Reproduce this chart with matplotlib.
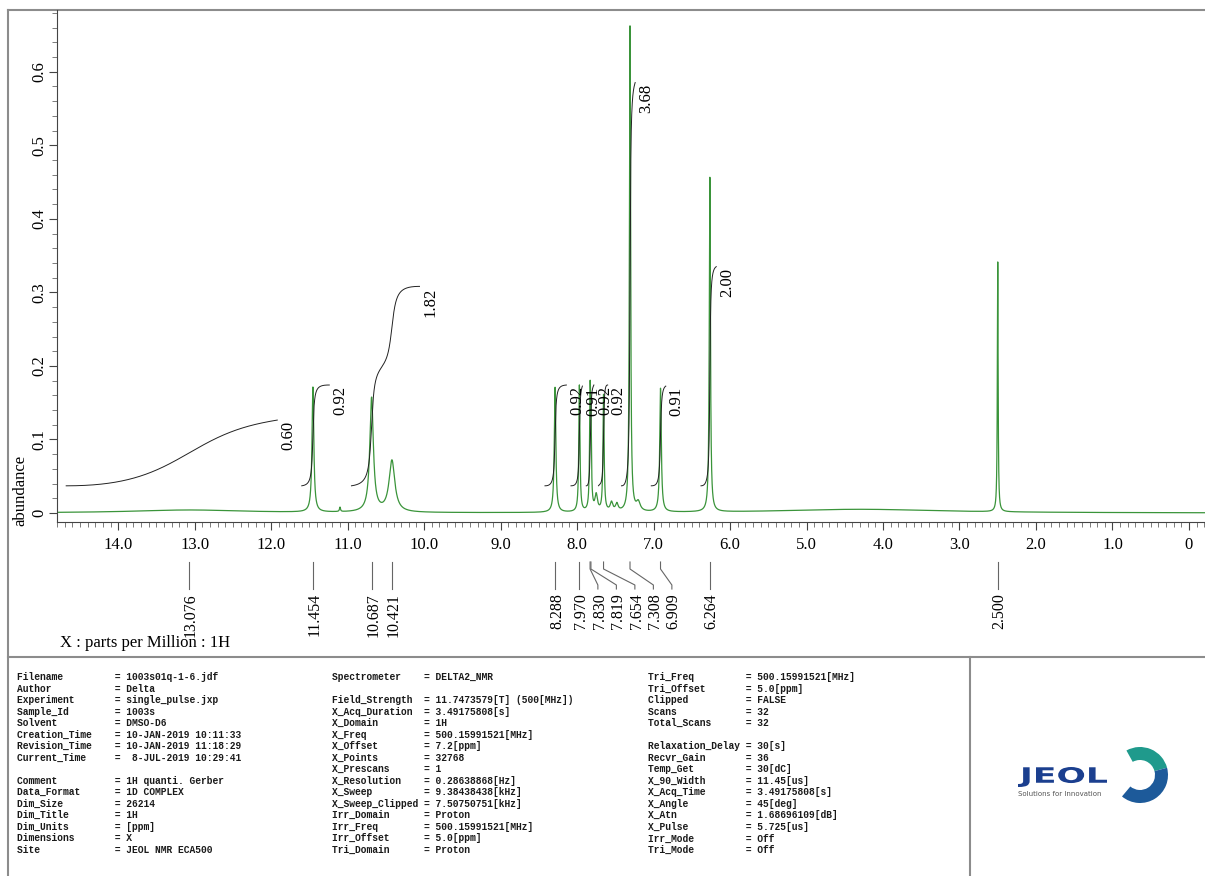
import numpy as np
import matplotlib.pyplot as plt
from matplotlib import transforms
from matplotlib.patches import Wedge, PathPatch
from matplotlib.textpath import TextPath
from matplotlib.font_manager import FontProperties
from matplotlib.ticker import MultipleLocator, FuncFormatter

W, H = 1205, 876

# spectrum peaks: position [ppm], height [abundance], half width [ppm]
peak_ppm = [13.076, 11.454, 11.10, 10.687, 10.421, 8.288, 7.970, 7.830, 7.819, 7.75,
            7.654, 7.55, 7.48, 7.308, 7.20, 6.909, 6.264, 4.30, 2.500]
peak_height = [0.004, 0.170, 0.006, 0.155, 0.070, 0.170, 0.172, 0.140, 0.100, 0.022,
               0.158, 0.012, 0.010, 0.660, 0.012, 0.168, 0.455, 0.005, 0.340]
peak_width = [0.90, 0.014, 0.008, 0.028, 0.045, 0.012, 0.009, 0.008, 0.008, 0.02,
              0.009, 0.02, 0.02, 0.009, 0.03, 0.012, 0.009, 1.3, 0.006]

# integral regions [ppm] and printed values
int_start = [14.68, 11.60, 10.95, 8.42, 8.08, 7.88, 7.72, 7.42, 7.03, 6.38]
int_end = [11.92, 11.24, 10.06, 8.14, 7.93, 7.78, 7.60, 7.24, 6.84, 6.18]
int_value = [0.60, 0.92, 1.82, 0.92, 0.91, 0.92, 0.92, 3.68, 0.91, 2.00]

# peak picks [ppm]
pick_ppm = [13.076, 11.454, 10.687, 10.421, 8.288, 7.970, 7.830, 7.819, 7.654,
            7.308, 6.909, 6.264, 2.500]

info_col1 = [
    ("Filename", "1003s01q-1-6.jdf"), ("Author", "Delta"),
    ("Experiment", "single_pulse.jxp"), ("Sample_Id", "1003s"),
    ("Solvent", "DMSO-D6"), ("Creation_Time", "10-JAN-2019 10:11:33"),
    ("Revision_Time", "10-JAN-2019 11:18:29"), ("Current_Time", " 8-JUL-2019 10:29:41"),
    None,
    ("Comment", "1H quanti. Gerber"), ("Data_Format", "1D COMPLEX"),
    ("Dim_Size", "26214"), ("Dim_Title", "1H"), ("Dim_Units", "[ppm]"),
    ("Dimensions", "X"), ("Site", "JEOL NMR ECA500"),
]
info_col2 = [
    ("Spectrometer", "DELTA2_NMR"),
    None,
    ("Field_Strength", "11.7473579[T] (500[MHz])"), ("X_Acq_Duration", "3.49175808[s]"),
    ("X_Domain", "1H"), ("X_Freq", "500.15991521[MHz]"), ("X_Offset", "7.2[ppm]"),
    ("X_Points", "32768"), ("X_Prescans", "1"), ("X_Resolution", "0.28638868[Hz]"),
    ("X_Sweep", "9.38438438[kHz]"), ("X_Sweep_Clipped", "7.50750751[kHz]"),
    ("Irr_Domain", "Proton"), ("Irr_Freq", "500.15991521[MHz]"),
    ("Irr_Offset", "5.0[ppm]"), ("Tri_Domain", "Proton"),
]
info_col3 = [
    ("Tri_Freq", "500.15991521[MHz]"), ("Tri_Offset", "5.0[ppm]"),
    ("Clipped", "FALSE"), ("Scans", "32"), ("Total_Scans", "32"),
    None,
    ("Relaxation_Delay", "30[s]"), ("Recvr_Gain", "36"), ("Temp_Get", "30[dC]"),
    ("X_90_Width", "11.45[us]"), ("X_Acq_Time", "3.49175808[s]"), ("X_Angle", "45[deg]"),
    ("X_Atn", "1.68696109[dB]"), ("X_Pulse", "5.725[us]"), ("Irr_Mode", "Off"),
    ("Tri_Mode", "Off"),
]

SERIF = "Liberation Serif"
MONO = "Liberation Mono"
GREEN = "#3a943a"
FRAME = "#8c8c8c"
INT_BASE = 0.037   # integral baseline [abundance]
INT_UNIT = 0.149   # abundance per integral unit

plt.rcParams["font.family"] = SERIF


def px_box(x0, y0, x1, y1):
    # pixel box (y from top) -> figure fraction rect
    return [x0 / W, 1 - y1 / H, (x1 - x0) / W, (y1 - y0) / H]


def fmt(v, _):
    return "0" if abs(v) < 1e-9 else f"{v:.1f}"


def main():
    fig = plt.figure(figsize=(W / 100, H / 100), dpi=100)

    # pixel-space overlay for frame, table and logo
    deco = fig.add_axes([0, 0, 1, 1], zorder=0)
    deco.set_xlim(0, W)
    deco.set_ylim(H, 0)
    deco.axis("off")

    ax = fig.add_axes(px_box(57, 10, 1205, 522), zorder=1)
    ax.patch.set_alpha(0)
    ax.set_xlim(14.80, -0.21)
    ax.set_ylim(-0.0122, 0.684)
    for s in ("top", "right"):
        ax.spines[s].set_visible(False)
    for s in ("left", "bottom"):
        ax.spines[s].set_color("#444")
        ax.spines[s].set_linewidth(0.8)

    ax.xaxis.set_major_locator(MultipleLocator(1.0))
    ax.xaxis.set_minor_locator(MultipleLocator(0.1))
    ax.yaxis.set_major_locator(MultipleLocator(0.1))
    ax.yaxis.set_minor_locator(MultipleLocator(0.02))
    ax.xaxis.set_major_formatter(FuncFormatter(fmt))
    ax.yaxis.set_major_formatter(FuncFormatter(fmt))
    ax.tick_params(which="major", length=6, width=0.8, color="#444", labelsize=12)
    ax.tick_params(which="minor", length=3.5, width=0.6, color="#666")
    ax.tick_params(axis="x", which="major", pad=5)
    ax.tick_params(axis="y", which="major", pad=1, labelrotation=90)
    for lbl in ax.get_yticklabels():
        lbl.set_va("center")

    # spectrum
    ppm = np.linspace(14.80, -0.21, 30001)
    spec = np.zeros_like(ppm)
    for c, h, w in zip(peak_ppm, peak_height, peak_width):
        spec += h * w ** 2 / ((ppm - c) ** 2 + w ** 2)
    ax.plot(ppm, spec, color=GREEN, lw=0.9)

    # integrals
    for s, e, v in zip(int_start, int_end, int_value):
        m = (ppm <= s) & (ppm >= e)
        seg = spec[m] - spec[m].min()
        cum = np.cumsum(seg)
        curve = INT_BASE + v * INT_UNIT * cum / cum[-1]
        ax.plot(ppm[m], curve, color="#222", lw=0.7)
        ax.annotate(f"{v:.2f}", xy=(e, curve[-1]), xytext=(3, -1),
                    textcoords="offset pixels", rotation=90, ha="left", va="top",
                    fontsize=12)

    # peak picks below the axis
    trans = transforms.blended_transform_factory(ax.transData, deco.transData)
    x0 = ax.transData.transform((0, 0))[0]
    x1 = ax.transData.transform((1, 0))[0]
    ppm_per_px = 1.0 / abs(x0 - x1)
    prev = None
    for p in pick_ppm:
        lab = p if prev is None else min(p, prev - 18.5 * ppm_per_px)
        prev = lab
        deco.plot([p, p, lab, lab], [562, 569, 585, 589], transform=trans,
                  color="#666", lw=0.8, clip_on=False)
        deco.text(lab - 2 * ppm_per_px, 593, f"{p:.3f}", transform=trans,
                  rotation=90, ha="center", va="top", fontsize=11.5)

    deco.text(60, 643, "X : parts per Million : 1H", fontsize=12, va="center")
    deco.text(20, 490, "abundance", fontsize=12, rotation=90, ha="center", va="center")

    # frame
    fl = dict(color=FRAME, lw=1.5)
    deco.plot([8, W], [10, 10], **fl)
    deco.plot([8, 8], [10, H], **fl)
    deco.plot([8, W], [657, 657], **fl)
    deco.plot([970, 970], [657, H], **fl)

    # parameter table
    for col_x, key_w, rows in ((17, 17, info_col1), (332, 16, info_col2), (648, 17, info_col3)):
        for i, row in enumerate(rows):
            if row is None:
                continue
            key, val = row
            deco.text(col_x, 677 + i * 11.53, key.ljust(key_w) + "= " + val,
                      family=MONO, fontsize=6.9, weight="bold", color="#1a1a1a", va="center")

    # JEOL logo
    tp = TextPath((0, 0), "JEOL", size=1, prop=FontProperties(family="DejaVu Sans", weight="bold"))
    ext = tp.get_extents()
    tr = (transforms.Affine2D().translate(-ext.x0, -ext.y0)
          .scale(89 / ext.width, -20 / ext.height).translate(1018, 787))
    deco.add_patch(PathPatch(tr.transform_path(tp), facecolor="#1b3f8f", edgecolor="none"))
    deco.text(1018, 794, "Solutions for Innovation", family="DejaVu Sans", fontsize=5,
              color="#555", va="center")
    deco.add_patch(Wedge((1140, 775), 28, -119, -15, width=13, facecolor="#1f9a8c", edgecolor="none"))
    deco.add_patch(Wedge((1140, 775), 28, -15, 130, width=13, facecolor="#1d5a9a", edgecolor="none"))

    fig.savefig("out.png", dpi=100)


if __name__ == "__main__":
    main()
